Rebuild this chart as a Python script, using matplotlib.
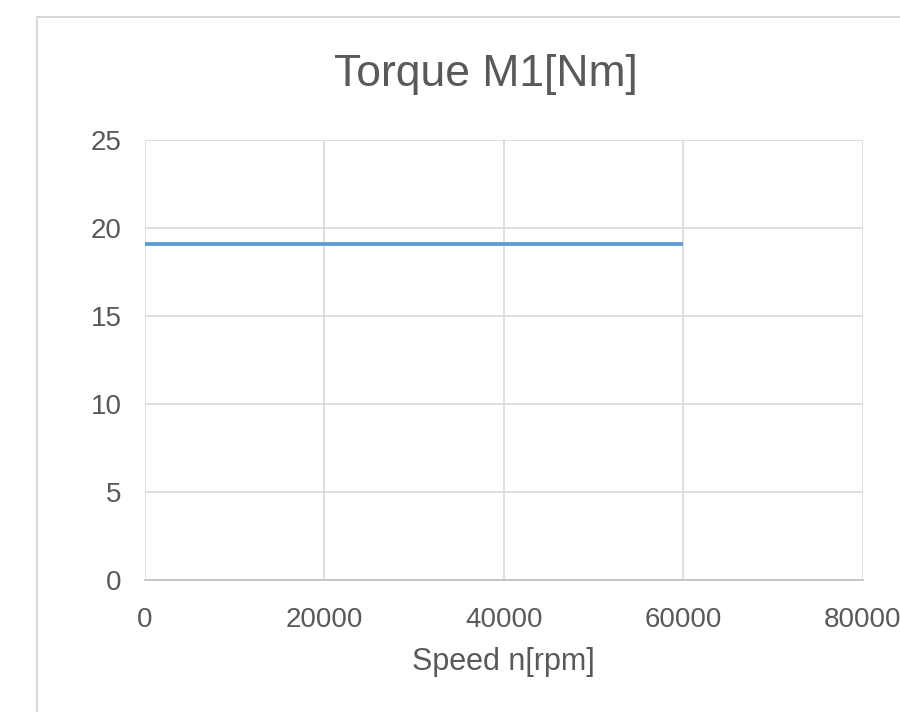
import matplotlib
matplotlib.use("Agg")
import matplotlib.pyplot as plt
from matplotlib.patches import Rectangle

speed = [0, 60000]
torque = [19.1, 19.1]
xticks = [0, 20000, 40000, 60000, 80000]
yticks = [0, 5, 10, 15, 20, 25]

plt.rcParams['font.family'] = ['Liberation Sans', 'DejaVu Sans']
fig = plt.figure(figsize=(9, 7.12), dpi=100)
fig.patch.set_facecolor('white')

# Excel-style chart area border (extends beyond the right/bottom edge)
fig.patches.append(Rectangle((37/900, -0.05), 1.1, 1 - 17/712 + 0.05,
                             transform=fig.transFigure, fill=False,
                             edgecolor='#d9d9d9', linewidth=1.5))

ax = fig.add_axes([145/900, 1 - 580/712, (862.7 - 145)/900, (580 - 140)/712])
ax.plot(speed, torque, color='#5b9bd5', linewidth=2.7, solid_capstyle='butt', zorder=3)
ax.set_xlim(0, 80000)
ax.set_ylim(0, 25)
ax.set_xticks(xticks)
ax.set_yticks(yticks)
ax.grid(True, color='#d9d9d9', linewidth=1.2)
ax.set_axisbelow(True)
for s in ['top', 'right', 'left']:
    ax.spines[s].set_visible(False)
ax.spines['bottom'].set_color('#bfbfbf')
ax.spines['bottom'].set_linewidth(1.2)
ax.tick_params(length=0, labelsize=20, colors='#595959')
ax.tick_params(axis='x', pad=19.5)
ax.tick_params(axis='y', pad=17)
for lbl in ax.get_xticklabels():
    lbl.set_clip_on(False)
fig.text(503/900, 1 - 670/712, 'Speed n[rpm]', fontsize=22, color='#595959',
         ha='center', va='baseline')
fig.text(485.5/900, 1 - 86/712, 'Torque M1[Nm]', fontsize=32, color='#595959',
         ha='center', va='baseline')
fig.savefig('out.png', dpi=100)
